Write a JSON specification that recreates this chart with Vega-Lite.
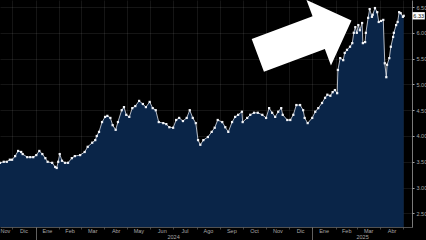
{
  "$schema": "https://vega.github.io/schema/vega-lite/v6.json",
  "width": 412,
  "height": 227,
  "autosize": {"type": "none"},
  "padding": {"left": 0, "top": 0, "right": 14, "bottom": 13},
  "background": "#000000",
  "config": {
    "view": {"stroke": null},
    "font": "Liberation Sans",
    "axis": {"labelOverlap": false},
    "locale": {
      "time": {
        "dateTime": "%A, %e de %B de %Y, %X",
        "date": "%d/%m/%Y",
        "time": "%H:%M:%S",
        "periods": ["AM", "PM"],
        "days": ["domingo", "lunes", "martes", "miércoles", "jueves", "viernes", "sábado"],
        "shortDays": ["dom", "lun", "mar", "mié", "jue", "vie", "sáb"],
        "months": ["enero", "febrero", "marzo", "abril", "mayo", "junio", "julio", "agosto", "septiembre", "octubre", "noviembre", "diciembre"],
        "shortMonths": ["Ene", "Feb", "Mar", "Abr", "May", "Jun", "Jul", "Ago", "Sep", "Oct", "Nov", "Dic"]
      }
    }
  },
  "datasets": {
    "series": [
      {"date": "2023-11-15", "value": 3.48},
      {"date": "2023-11-20", "value": 3.50},
      {"date": "2023-11-24", "value": 3.50},
      {"date": "2023-11-28", "value": 3.54},
      {"date": "2023-12-01", "value": 3.54},
      {"date": "2023-12-05", "value": 3.61},
      {"date": "2023-12-09", "value": 3.71},
      {"date": "2023-12-13", "value": 3.69},
      {"date": "2023-12-15", "value": 3.65},
      {"date": "2023-12-21", "value": 3.59},
      {"date": "2023-12-25", "value": 3.59},
      {"date": "2023-12-29", "value": 3.59},
      {"date": "2024-01-02", "value": 3.63},
      {"date": "2024-01-06", "value": 3.71},
      {"date": "2024-01-10", "value": 3.65},
      {"date": "2024-01-14", "value": 3.57},
      {"date": "2024-01-17", "value": 3.50},
      {"date": "2024-01-23", "value": 3.48},
      {"date": "2024-01-27", "value": 3.40},
      {"date": "2024-01-29", "value": 3.38},
      {"date": "2024-01-31", "value": 3.50},
      {"date": "2024-02-02", "value": 3.65},
      {"date": "2024-02-05", "value": 3.52},
      {"date": "2024-02-09", "value": 3.48},
      {"date": "2024-02-13", "value": 3.48},
      {"date": "2024-02-18", "value": 3.57},
      {"date": "2024-02-22", "value": 3.61},
      {"date": "2024-02-29", "value": 3.63},
      {"date": "2024-03-06", "value": 3.69},
      {"date": "2024-03-10", "value": 3.79},
      {"date": "2024-03-16", "value": 3.87},
      {"date": "2024-03-20", "value": 3.92},
      {"date": "2024-03-22", "value": 4.00},
      {"date": "2024-03-25", "value": 4.08},
      {"date": "2024-03-29", "value": 4.27},
      {"date": "2024-04-02", "value": 4.37},
      {"date": "2024-04-05", "value": 4.39},
      {"date": "2024-04-09", "value": 4.35},
      {"date": "2024-04-12", "value": 4.21},
      {"date": "2024-04-16", "value": 4.12},
      {"date": "2024-04-19", "value": 4.27},
      {"date": "2024-04-24", "value": 4.50},
      {"date": "2024-04-27", "value": 4.56},
      {"date": "2024-04-30", "value": 4.41},
      {"date": "2024-05-04", "value": 4.37},
      {"date": "2024-05-08", "value": 4.54},
      {"date": "2024-05-12", "value": 4.58},
      {"date": "2024-05-17", "value": 4.68},
      {"date": "2024-05-22", "value": 4.62},
      {"date": "2024-05-26", "value": 4.56},
      {"date": "2024-05-31", "value": 4.66},
      {"date": "2024-06-04", "value": 4.54},
      {"date": "2024-06-08", "value": 4.50},
      {"date": "2024-06-12", "value": 4.27},
      {"date": "2024-06-18", "value": 4.25},
      {"date": "2024-06-22", "value": 4.23},
      {"date": "2024-06-26", "value": 4.17},
      {"date": "2024-07-01", "value": 4.16},
      {"date": "2024-07-05", "value": 4.31},
      {"date": "2024-07-09", "value": 4.35},
      {"date": "2024-07-14", "value": 4.29},
      {"date": "2024-07-19", "value": 4.35},
      {"date": "2024-07-23", "value": 4.50},
      {"date": "2024-07-27", "value": 4.35},
      {"date": "2024-07-31", "value": 4.25},
      {"date": "2024-08-03", "value": 3.92},
      {"date": "2024-08-06", "value": 3.83},
      {"date": "2024-08-10", "value": 3.92},
      {"date": "2024-08-16", "value": 3.98},
      {"date": "2024-08-21", "value": 4.08},
      {"date": "2024-08-25", "value": 4.16},
      {"date": "2024-08-29", "value": 4.31},
      {"date": "2024-09-04", "value": 4.27},
      {"date": "2024-09-08", "value": 4.17},
      {"date": "2024-09-12", "value": 4.08},
      {"date": "2024-09-17", "value": 4.27},
      {"date": "2024-09-21", "value": 4.37},
      {"date": "2024-09-25", "value": 4.41},
      {"date": "2024-09-30", "value": 4.47},
      {"date": "2024-10-01", "value": 4.27},
      {"date": "2024-10-07", "value": 4.35},
      {"date": "2024-10-11", "value": 4.41},
      {"date": "2024-10-16", "value": 4.45},
      {"date": "2024-10-21", "value": 4.45},
      {"date": "2024-10-27", "value": 4.41},
      {"date": "2024-11-01", "value": 4.35},
      {"date": "2024-11-05", "value": 4.54},
      {"date": "2024-11-09", "value": 4.45},
      {"date": "2024-11-13", "value": 4.37},
      {"date": "2024-11-17", "value": 4.47},
      {"date": "2024-11-21", "value": 4.54},
      {"date": "2024-11-23", "value": 4.41},
      {"date": "2024-11-29", "value": 4.31},
      {"date": "2024-12-03", "value": 4.31},
      {"date": "2024-12-07", "value": 4.41},
      {"date": "2024-12-11", "value": 4.60},
      {"date": "2024-12-16", "value": 4.60},
      {"date": "2024-12-20", "value": 4.50},
      {"date": "2024-12-22", "value": 4.35},
      {"date": "2024-12-26", "value": 4.25},
      {"date": "2025-01-01", "value": 4.35},
      {"date": "2025-01-05", "value": 4.47},
      {"date": "2025-01-09", "value": 4.54},
      {"date": "2025-01-14", "value": 4.64},
      {"date": "2025-01-18", "value": 4.74},
      {"date": "2025-01-21", "value": 4.80},
      {"date": "2025-01-25", "value": 4.78},
      {"date": "2025-01-28", "value": 4.85},
      {"date": "2025-01-31", "value": 4.89},
      {"date": "2025-02-03", "value": 4.83},
      {"date": "2025-02-04", "value": 5.28},
      {"date": "2025-02-07", "value": 5.51},
      {"date": "2025-02-11", "value": 5.47},
      {"date": "2025-02-13", "value": 5.61},
      {"date": "2025-02-16", "value": 5.67},
      {"date": "2025-02-20", "value": 5.73},
      {"date": "2025-02-23", "value": 5.80},
      {"date": "2025-02-25", "value": 6.00},
      {"date": "2025-02-27", "value": 6.11},
      {"date": "2025-03-01", "value": 6.00},
      {"date": "2025-03-03", "value": 6.15},
      {"date": "2025-03-05", "value": 6.05},
      {"date": "2025-03-08", "value": 6.19},
      {"date": "2025-03-09", "value": 5.80},
      {"date": "2025-03-12", "value": 5.82},
      {"date": "2025-03-13", "value": 6.00},
      {"date": "2025-03-16", "value": 6.29},
      {"date": "2025-03-18", "value": 6.46},
      {"date": "2025-03-21", "value": 6.31},
      {"date": "2025-03-22", "value": 6.35},
      {"date": "2025-03-25", "value": 6.48},
      {"date": "2025-03-28", "value": 6.40},
      {"date": "2025-03-30", "value": 6.21},
      {"date": "2025-04-02", "value": 6.23},
      {"date": "2025-04-05", "value": 6.25},
      {"date": "2025-04-07", "value": 5.41},
      {"date": "2025-04-09", "value": 5.14},
      {"date": "2025-04-10", "value": 5.38},
      {"date": "2025-04-13", "value": 5.51},
      {"date": "2025-04-15", "value": 5.73},
      {"date": "2025-04-18", "value": 5.92},
      {"date": "2025-04-19", "value": 6.00},
      {"date": "2025-04-22", "value": 6.15},
      {"date": "2025-04-24", "value": 6.21},
      {"date": "2025-04-26", "value": 6.40},
      {"date": "2025-04-28", "value": 6.38},
      {"date": "2025-05-01", "value": 6.31},
      {"date": "2025-05-02", "value": 6.33}
    ],
    "last": [{"date": "2025-05-02", "value": 6.33}],
    "arrow": [{"date": "2024-12-22", "value": 5.9}]
  },
  "layer": [
    {
      "data": {"name": "series"},
      "mark": {"type": "area", "color": "#0a2548", "opacity": 1, "clip": true},
      "encoding": {
        "x": {
          "field": "date", "type": "temporal",
          "scale": {"domain": [{"year": 2023, "month": 11, "date": 15}, {"year": 2025, "month": 5, "date": 13}]},
          "axis": {
            "orient": "bottom", "title": null, "labels": false,
            "tickCount": {"interval": "month", "step": 1},
            "grid": true, "gridColor": "#ffffff", "gridOpacity": 0.14, "gridWidth": 0.6,
            "ticks": true, "tickSize": 2, "tickColor": "#777777", "tickWidth": 0.6,
            "domain": true, "domainColor": "#666666", "domainWidth": 0.8
          }
        },
        "y": {
          "field": "value", "type": "quantitative",
          "scale": {"domain": [2.236, 6.636], "nice": false, "zero": false},
          "axis": {
            "orient": "right", "title": null,
            "values": [2.5, 3, 3.5, 4, 4.5, 5, 5.5, 6, 6.5],
            "format": ".2f", "labelOverlap": false,
            "labelFontSize": 5.5, "labelColor": "#a8a8a8", "labelPadding": 2,
            "ticks": true, "tickSize": 2, "tickColor": "#cccccc", "tickWidth": 0.8,
            "domain": true, "domainColor": "#999999", "domainWidth": 0.8,
            "grid": true, "gridColor": "#ffffff", "gridOpacity": 0.14, "gridWidth": 0.6
          }
        }
      }
    },
    {
      "data": {"name": "series"},
      "mark": {"type": "line", "color": "#dfe5ee", "strokeWidth": 0.8},
      "encoding": {
        "x": {
          "field": "date", "type": "temporal",
          "axis": {
            "orient": "bottom", "title": null,
            "values": [
              {"year": 2023, "month": 11, "date": 15},
              {"year": 2023, "month": 12, "date": 16},
              {"year": 2024, "month": 1, "date": 16},
              {"year": 2024, "month": 2, "date": 15},
              {"year": 2024, "month": 3, "date": 16},
              {"year": 2024, "month": 4, "date": 16},
              {"year": 2024, "month": 5, "date": 16},
              {"year": 2024, "month": 6, "date": 16},
              {"year": 2024, "month": 7, "date": 16},
              {"year": 2024, "month": 8, "date": 16},
              {"year": 2024, "month": 9, "date": 16},
              {"year": 2024, "month": 10, "date": 16},
              {"year": 2024, "month": 11, "date": 16},
              {"year": 2024, "month": 12, "date": 16},
              {"year": 2025, "month": 1, "date": 16},
              {"year": 2025, "month": 2, "date": 15},
              {"year": 2025, "month": 3, "date": 16},
              {"year": 2025, "month": 4, "date": 16}
            ],
            "format": "%b", "labelFlush": true, "labelOverlap": false,
            "labelFontSize": 5.5, "labelColor": "#a8a8a8", "labelPadding": 1,
            "ticks": false, "domain": false, "grid": false
          }
        },
        "y": {"field": "value", "type": "quantitative", "axis": null}
      }
    },
    {
      "data": {"name": "series"},
      "mark": {"type": "point", "shape": "square", "filled": true, "size": 5, "color": "#f2f4f8", "opacity": 1},
      "encoding": {
        "x": {
          "field": "date", "type": "temporal",
          "axis": {
            "orient": "bottom", "title": null,
            "values": [{"year": 2024, "month": 7, "date": 1}, {"year": 2025, "month": 3, "date": 8}],
            "format": "%Y", "labelOverlap": false,
            "labelFontSize": 5.5, "labelColor": "#a8a8a8", "labelPadding": 7,
            "ticks": false, "domain": false, "grid": false
          }
        },
        "y": {"field": "value", "type": "quantitative", "axis": null}
      }
    },
    {
      "data": {"name": "last"},
      "mark": {"type": "point", "shape": "M-1,-0.6L1,-0.6L1,0.6L-1,0.6Z", "size": 150, "filled": true, "color": "#ffffff", "opacity": 1, "xOffset": 15},
      "encoding": {
        "x": {
          "field": "date", "type": "temporal",
          "axis": {
            "orient": "bottom", "title": null, "labels": false,
            "values": [{"year": 2024, "month": 1, "date": 1}, {"year": 2025, "month": 1, "date": 1}],
            "ticks": true, "tickSize": 13, "tickColor": "#888888", "tickWidth": 0.7,
            "domain": false, "grid": false
          }
        },
        "y": {"field": "value", "type": "quantitative", "axis": null}
      }
    },
    {
      "data": {"name": "last"},
      "mark": {"type": "text", "fontSize": 5.5, "color": "#111111", "xOffset": 15, "align": "center", "baseline": "middle"},
      "encoding": {
        "x": {"field": "date", "type": "temporal", "axis": null},
        "y": {"field": "value", "type": "quantitative", "axis": null},
        "text": {"field": "value", "type": "quantitative", "format": ".2f"}
      }
    },
    {
      "data": {"name": "arrow"},
      "mark": {"type": "point", "shape": "M-1,-0.35L0.3,-0.35L0.3,-0.7L1,0L0.3,0.7L0.3,0.35L-1,0.35Z", "size": 10000, "angle": 339.5, "filled": true, "color": "#ffffff", "opacity": 1, "strokeWidth": 0},
      "encoding": {
        "x": {"field": "date", "type": "temporal", "axis": null},
        "y": {"field": "value", "type": "quantitative", "axis": null}
      }
    }
  ],
  "resolve": {"axis": {"x": "independent", "y": "independent"}}
}
